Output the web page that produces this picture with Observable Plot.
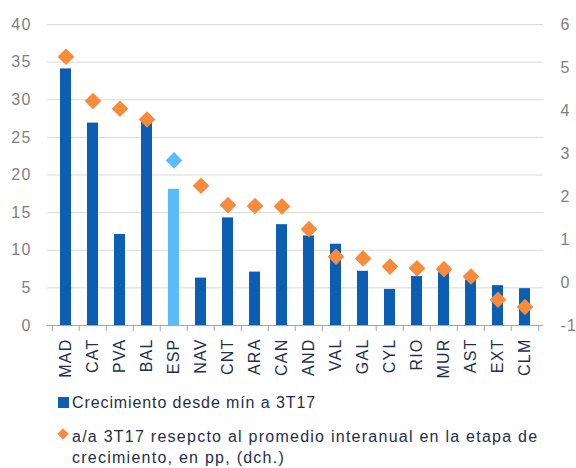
<!DOCTYPE html>
<html>
<head>
<meta charset="utf-8">
<script src="https://cdn.jsdelivr.net/npm/d3@7"></script>
<script src="https://cdn.jsdelivr.net/npm/@observablehq/plot@0.6"></script>
<style>
  html, body { margin: 0; padding: 0; background: #fff; }
  #wrap { position: relative; width: 576px; height: 468px; font-family: "Liberation Sans", Arial, sans-serif; }
  .leg { position: absolute; left: 72px; font-size: 16px; line-height: 21px; color: #1f2e4d; white-space: nowrap; }
  .mk { position: absolute; }
</style>
</head>
<body>
<div id="wrap"></div>
<script>
const categories = ["MAD","CAT","PVA","BAL","ESP","NAV","CNT","ARA","CAN","AND","VAL","GAL","CYL","RIO","MUR","AST","EXT","CLM"];
const growthSinceMin = [34.1, 26.9, 12.1, 27.1, 18.1, 6.3, 14.3, 7.1, 13.4, 11.9, 10.8, 7.2, 4.8, 6.5, 7.1, 6.0, 5.3, 4.9];
const yoyVsAverage = [5.25, 4.22, 4.04, 3.79, 2.84, 2.25, 1.80, 1.78, 1.77, 1.24, 0.60, 0.56, 0.37, 0.33, 0.31, 0.14, -0.40, -0.57];
const leftTicks = [0, 5, 10, 15, 20, 25, 30, 35, 40];
const rightTicks = [-1, 0, 1, 2, 3, 4, 5, 6];
const highlight = "ESP";
const seriesNames = ["Crecimiento desde mín a 3T17", "a/a 3T17 resepcto al promedio interanual en la etapa de crecimiento, en pp, (dch.)"];

const darkBlue = "#0b5eb2", lightBlue = "#5bbcfc", orange = "#f68b3b";
const W = 576, H = 390, mL = 47, mR = 33, mT = 24, mB = 65;
const step = (W - mL - mR) / categories.length;

// map right-axis values onto the left scale
const rMin = rightTicks[0], rMax = rightTicks[rightTicks.length - 1];
const lMin = leftTicks[0], lMax = leftTicks[leftTicks.length - 1];
const toLeft = v => lMin + (v - rMin) * (lMax - lMin) / (rMax - rMin);
const toRight = v => Math.round(rMin + (v - lMin) * (rMax - rMin) / (lMax - lMin));

const data = categories.map((c, i) => ({cat: c, bar: growthSinceMin[i], dia: yoyVsAverage[i]}));

const chart = Plot.plot({
  width: W, height: H,
  marginLeft: mL, marginRight: mR, marginTop: mT, marginBottom: mB,
  style: {fontFamily: "'Liberation Sans', Arial, sans-serif", background: "#fff", letterSpacing: "1.2px"},
  x: {domain: categories, paddingInner: 0.61, paddingOuter: 0.305, axis: null},
  y: {domain: [lMin, lMax], axis: null},
  color: {type: "identity"},
  marks: [
    Plot.gridY(leftTicks.filter(t => t !== 0), {stroke: "#d9d9d9", strokeOpacity: 1}),
    Plot.barY(data, {x: "cat", y: "bar", fill: d => d.cat === highlight ? lightBlue : darkBlue}),
    Plot.ruleY([0], {stroke: "#a6a6a6"}),
    Plot.ruleX(categories, {x: d => d, y1: 0, y2: 0, insetBottom: -6, dx: -step / 2, stroke: "#a6a6a6"}),
    Plot.ruleX([categories[categories.length - 1]], {x: d => d, y1: 0, y2: 0, insetBottom: -6, dx: step / 2, stroke: "#a6a6a6"}),
    Plot.dot(data, {x: "cat", y: d => toLeft(d.dia), symbol: "diamond2", r: 7.5, fill: d => d.cat === highlight ? lightBlue : orange, stroke: "none"}),
    Plot.axisX({tickRotate: -90, tickSize: 0, tickPadding: 13, fontSize: 16, fill: "#1f2e4d", label: null}),
    Plot.axisY(leftTicks, {anchor: "left", tickSize: 0, tickPadding: 16, fontSize: 16, fill: "#7f7f7f", label: null}),
    Plot.axisY(rightTicks.map(toLeft), {anchor: "right", tickSize: 0, tickPadding: 17, fontSize: 16, fill: "#7f7f7f", label: null, tickFormat: d => String(toRight(d))})
  ]
});

const wrap = document.getElementById("wrap");
wrap.appendChild(chart);

// legend (HTML, below the SVG)
const sq = document.createElement("div");
sq.className = "mk";
Object.assign(sq.style, {left: "58px", top: "397px", width: "11px", height: "11px", background: darkBlue});
wrap.appendChild(sq);
const t1 = document.createElement("div");
t1.className = "leg"; t1.style.top = "392px"; t1.style.letterSpacing = "0.9px"; t1.textContent = seriesNames[0];
wrap.appendChild(t1);

const dm = document.createElement("div");
dm.className = "mk";
Object.assign(dm.style, {left: "59px", top: "430px", width: "8px", height: "8px", background: orange, transform: "rotate(45deg)"});
wrap.appendChild(dm);
const t2 = document.createElement("div");
t2.className = "leg"; t2.style.top = "425.7px"; t2.style.whiteSpace = "normal"; t2.style.width = "490px"; t2.style.letterSpacing = "1.25px";
t2.textContent = seriesNames[1];
wrap.appendChild(t2);
</script>
</body>
</html>
